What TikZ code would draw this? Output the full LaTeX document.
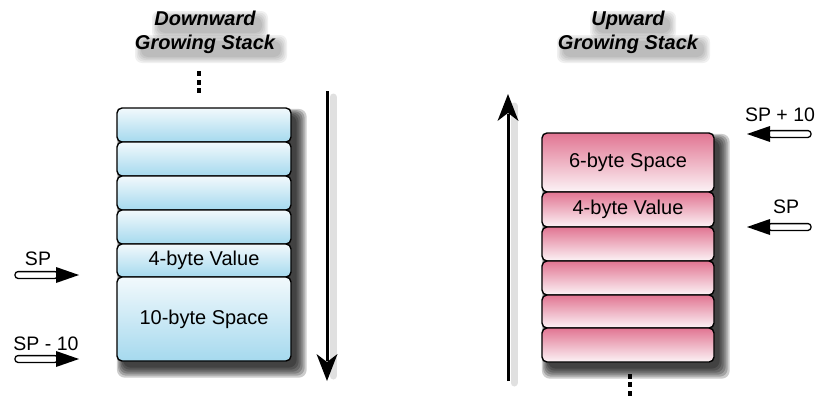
\documentclass[tikz,border=0pt]{standalone}
\usepackage{fontspec}
\setmainfont{Liberation Sans}
\usetikzlibrary{calc}
\pgfdeclarelayer{background}
\pgfsetlayers{background,main}
\definecolor{bluetop}{HTML}{F2F9FC}
\definecolor{bluemid}{HTML}{D8EEF7}
\definecolor{bluebot}{HTML}{A5D9EE}
\definecolor{pinktop}{HTML}{E17592}
\definecolor{pinkmid}{HTML}{EDB8C6}
\definecolor{pinkbot}{HTML}{FCF3F6}
\tikzset{
  cell/.style={draw=black, line width=1.4pt, rounded corners=5pt, inner sep=0pt,
    font=\fontsize{20}{24}\selectfont},
  bluecell/.style={cell, top color=bluetop, middle color=bluemid, bottom color=bluebot, minimum width=174pt},
  pinkcell/.style={cell, top color=pinktop, middle color=pinkmid, bottom color=pinkbot, minimum width=172pt},
  softshade/.style={fill=black, fill opacity=0.06, draw=none},
  stackshade/.style={fill=black, fill opacity=0.2, draw=none, rounded corners=8pt},
  title/.style={font=\fontsize{20}{24}\selectfont\bfseries\itshape, align=center},
  splabel/.style={font=\fontsize{19.5}{22}\selectfont, inner sep=0pt},
  growline/.style={line width=3pt, draw=black},
  growhead/.style={fill=black, draw=none},
  arrowshadow/.style={line width=7pt, draw=black, opacity=0.12, line cap=round},
  dot/.style={fill=black, minimum width=4.5pt, minimum height=5pt, inner sep=0pt},
  pics/sparrow/.style={code={
    \draw[line width=1.3pt, fill=white, rounded corners=3pt] (2,-3.4) rectangle (-41,3.4);
    \fill (0,-8) -- (23,0) -- (0,8) -- cycle;
  }}
}
% soft blurred blob: #1 = one corner, #2 = opposite corner
\newcommand{\smudge}[2]{%
  \foreach \r in {6,4.5,3,1.5,0}{%
    \fill[softshade, rounded corners=7pt] ($#1+(-\r,-\r)$) rectangle ($#2+(\r,\r)$);
  }%
}
\begin{document}
\begin{tikzpicture}[x=1pt,y=-1pt]
\useasboundingbox (0,0) rectangle (819,399);

% blurred shadows of the titles
\smudge{(158,17)}{(262,33)}
\smudge{(141,41)}{(281,57)}
\smudge{(596,17)}{(670,33)}
\smudge{(563,41)}{(704,57)}
\node[title] (tdown) at (205,32) {Downward\\Growing Stack};
\node[title] (tup) at (628,32) {Upward\\Growing Stack};

% left stack (downward)
\node[bluecell, minimum height=34pt] (c1) at (204,125) {};
\node[bluecell, minimum height=34pt] (c2) at (204,159) {};
\node[bluecell, minimum height=34pt] (c3) at (204,193) {};
\node[bluecell, minimum height=34pt] (c4) at (204,227) {};
\node[bluecell, minimum height=33pt] (c5) at (204,260.5) {4-byte Value};
\node[bluecell, minimum height=84pt] (c6) at (204,319) {10-byte Space};

% right stack (upward)
\node[pinkcell, minimum height=59pt] (r1) at (628,162.5) {6-byte Space};
\node[pinkcell, minimum height=35pt] (r2) at (628,209.5) {4-byte Value};
\node[pinkcell, minimum height=34pt] (r3) at (628,244) {};
\node[pinkcell, minimum height=34pt] (r4) at (628,278) {};
\node[pinkcell, minimum height=33pt] (r5) at (628,311.5) {};
\node[pinkcell, minimum height=34pt] (r6) at (628,345) {};

% drop shadows of the stacks
\begin{pgfonlayer}{background}
  \foreach \r in {9,7,5,3,1,-1}{
    \fill[stackshade]
      ($(c1.north west)+(6-0.6*\r,7-0.6*\r)$) rectangle ($(c6.south east)+(6+\r,7+\r)$);
    \fill[stackshade]
      ($(r1.north west)+(6-0.6*\r,7-0.6*\r)$) rectangle ($(r6.south east)+(6+\r,7+\r)$);
  }
\end{pgfonlayer}

% dots
\node[dot] (d1) at (199,73) {};
\node[dot] (d2) at (199,82) {};
\node[dot] (d3) at (199,90.5) {};
\node[dot] (e1) at (630,376) {};
\node[dot] (e2) at (630,384.5) {};
\node[dot] (e3) at (630,393) {};

% growth arrows
\coordinate (lt) at (327,91);
\coordinate (lb) at (327,381);
\coordinate (rb) at (508,381);
\coordinate (rt) at (508,94);
\draw[arrowshadow] (333,97) -- (333,376);
\draw[arrowshadow] (514,106) -- (514,383);
\draw[growline] (lt) -- ($(lb)+(0,-20)$);
\fill[growhead] (lb) -- ($(lb)+(-10.5,-27)$) -- ($(lb)+(0,-19)$) -- ($(lb)+(10.5,-27)$) -- cycle;
\draw[growline] (rb) -- ($(rt)+(0,20)$);
\fill[growhead] (rt) -- ($(rt)+(-10.5,27)$) -- ($(rt)+(0,19)$) -- ($(rt)+(10.5,27)$) -- cycle;

% stack pointer arrows
\node[splabel] (sp1) at (38,259) {SP};
\node[splabel] (sp2) at (46,344) {SP - 10};
\node[splabel] (sp3) at (780,115) {SP + 10};
\node[splabel] (sp4) at (786,207) {SP};
\pic at (56,275) {sparrow};
\pic at (56,359) {sparrow};
\pic[rotate=180] at (770,134) {sparrow};
\pic[rotate=180] at (770,227) {sparrow};
\end{tikzpicture}
\end{document}
